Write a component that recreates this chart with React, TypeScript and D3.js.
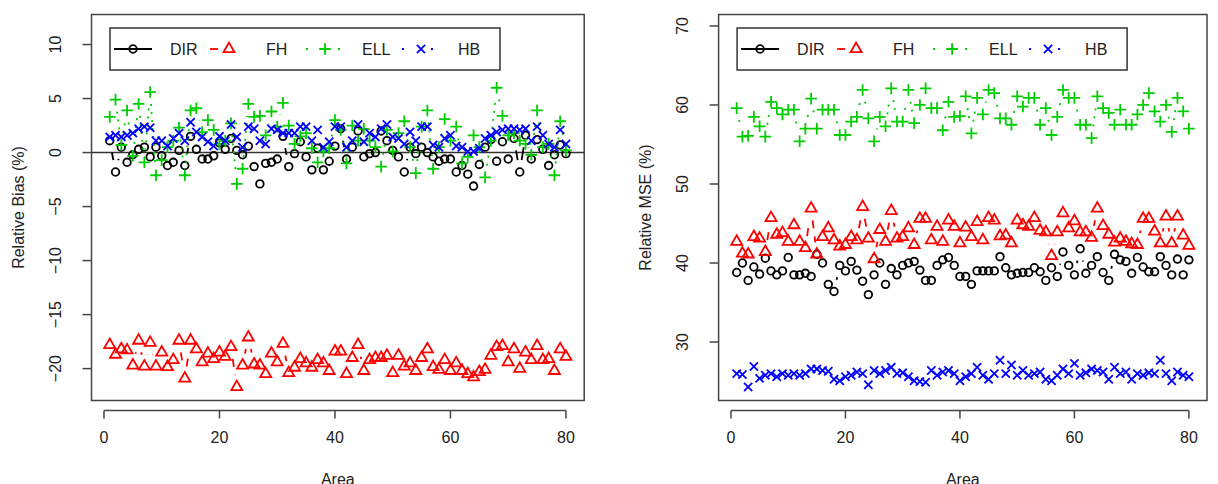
import React from "react";
import * as d3 from "d3";

// Small-area estimators compared over 80 areas
const AREAS: number[] = d3.range(1, 81);
const SERIES_NAMES = ["DIR", "FH", "ELL", "HB"];

const BIAS_TICKS = [-20, -15, -10, -5, 0, 5, 10];
const MSE_TICKS = [30, 40, 50, 60, 70];
const AREA_TICKS = [0, 20, 40, 60, 80];

// Relative bias (%)
const biasDIR = [
  1.1, -1.8, 0.5, -0.9, -0.2, 0.3, 0.5, -0.4, 0.5, -0.3,
  -1.2, -0.9, 0.2, -1.2, 1.5, 0.3, -0.6, -0.6, -0.3, 0.9,
  0.3, 1.3, 0.2, -0.2, 0.6, -1.3, -2.9, -1.0, -0.9, -0.6,
  1.5, -1.3, -0.1, 1.0, -0.4, -1.6, 0.4, -1.6, -0.8, 0.6,
  2.2, -0.6, 0.5, 2.0, -0.4, -0.1, 0.0, 2.0, 1.1, 0.2,
  -0.4, -1.8, 0.5, -0.1, 0.5, 0.0, -0.4, -0.8, -0.6, -0.6,
  -1.8, -1.2, -2.0, -3.1, -1.1, 0.5, 1.2, -0.8, 1.0, -0.6,
  1.3, -1.8, 1.6, -0.6, 1.2, 0.3, -1.2, -0.2, 0.7, -0.1,
];
const biasFH = [
  -17.8, -18.7, -18.2, -18.3, -19.7, -17.4, -19.8, -17.6, -19.8, -18.5,
  -19.85, -19.2, -17.4, -20.9, -17.4, -18.2, -19.4, -18.6, -19.1, -18.5,
  -18.9, -18.0, -21.7, -19.7, -17.1, -19.6, -19.7, -20.5, -18.6, -19.4,
  -17.7, -20.4, -19.9, -19.1, -19.5, -19.9, -19.2, -19.5, -20.2, -18.4,
  -18.4, -20.5, -19.0, -17.8, -20.2, -19.2, -19.0, -19.0, -18.8, -20.4,
  -18.8, -19.8, -19.5, -20.2, -19.0, -18.2, -19.85, -20.1, -19.2, -20.2,
  -19.5, -20.2, -20.5, -20.8, -20.3, -20.1, -18.8, -18.0, -17.9, -19.4,
  -18.2, -20.0, -18.5, -19.2, -17.9, -19.2, -19.1, -20.2, -18.2, -18.9,
];
const biasELL = [
  3.3, 4.9, 0.7, 3.9, -0.3, 4.5, -0.9, 5.6, -2.1, -0.7,
  0.5, 1.1, 2.3, -2.1, 3.9, 4.1, 1.9, 3.0, 2.1, 0.8,
  1.1, 2.7, -2.9, -1.5, 4.5, 3.3, 3.4, 1.6, 3.8, 2.4,
  4.6, 2.5, 0.8, 1.5, 1.8, 0.4, -0.9, 0.1, 0.4, 3.0,
  2.1, -1.0, 2.5, 1.1, 2.2, 1.1, 0.5, -1.3, 2.1, 0.1,
  1.8, 2.9, 0.5, -1.9, 2.4, 3.9, -1.5, 0.5, 3.1, 1.1,
  2.4, -1.0, -0.4, 1.6, 0.5, -2.3, 1.1, 6.0, 3.4, 1.6,
  1.8, 1.1, 0.8, -0.2, 3.9, 0.5, 0.8, -2.1, 2.9, 0.2,
];
const biasHB = [
  1.45, 1.6, 1.45, 1.6, 1.8, 2.2, 2.4, 2.3, 1.1, 1.1,
  0.6, 1.3, 1.8, 1.1, 2.8, 1.9, 1.45, 1.0, 0.6, 1.5,
  1.1, 2.6, 1.45, 0.5, 2.4, 2.2, 1.1, 0.8, 2.2, 2.1,
  1.8, 1.8, 1.8, 2.4, 2.4, 1.1, 2.1, 0.5, 1.0, 2.4,
  2.4, 0.5, 1.1, 2.6, 1.0, 1.8, 1.45, 2.2, 2.6, 1.45,
  1.3, 0.8, 1.9, 1.1, 2.4, 2.4, 0.7, 0.5, 1.3, 1.6,
  0.6, 0.5, 0.1, 0.1, 0.4, 1.3, 1.6, 1.9, 2.1, 2.2,
  2.2, 2.1, 2.2, 1.1, 2.4, 1.6, 0.8, 0.5, 2.1, 0.8,
];

// Relative MSE (%)
const mseDIR = [
  38.8, 40.0, 37.8, 39.5, 38.6, 40.6, 39.0, 38.5, 39.0, 40.7,
  38.5, 38.5, 38.7, 38.3, 41.1, 40.0, 37.3, 36.4, 39.7, 39.0,
  40.2, 39.1, 37.7, 36.0, 38.5, 40.0, 37.3, 39.3, 38.5, 39.7,
  40.0, 40.2, 39.1, 37.8, 37.8, 39.7, 40.4, 40.7, 39.7, 38.3,
  38.3, 37.3, 39.0, 39.0, 39.0, 39.0, 40.8, 39.4, 38.5, 38.7,
  38.8, 38.8, 39.4, 38.9, 37.8, 39.4, 38.3, 41.4, 39.7, 38.5,
  41.8, 38.7, 39.7, 40.8, 38.8, 37.8, 41.1, 40.4, 40.2, 38.7,
  40.7, 39.5, 38.9, 38.9, 40.8, 39.7, 38.5, 40.5, 38.5, 40.4,
];
const mseFH = [
  42.7, 41.2, 41.1, 43.3, 43.1, 41.4, 45.7, 43.6, 43.8, 42.7,
  44.8, 42.7, 41.9, 46.9, 41.1, 43.3, 44.4, 42.9, 42.1, 42.3,
  43.3, 42.9, 47.1, 43.1, 40.5, 44.2, 42.7, 46.6, 43.1, 43.3,
  44.4, 42.3, 45.6, 45.6, 42.9, 44.6, 42.7, 45.4, 44.6, 42.5,
  44.5, 43.3, 45.2, 42.9, 45.7, 45.4, 43.4, 43.5, 42.5, 45.4,
  44.8, 44.6, 45.7, 44.1, 43.9, 40.9, 43.9, 46.3, 44.4, 45.3,
  43.9, 43.9, 43.2, 46.9, 44.7, 43.6, 42.6, 43.1, 42.7, 42.4,
  42.3, 45.6, 45.6, 44.0, 42.5, 45.9, 42.5, 45.9, 43.5, 42.2,
];
const mseELL = [
  59.6, 56.0, 56.1, 58.5, 57.3, 56.0, 60.4, 59.6, 58.8, 59.4,
  59.4, 55.4, 57.0, 60.8, 57.0, 59.4, 59.4, 59.4, 56.2, 56.2,
  57.9, 58.5, 61.9, 58.3, 55.4, 58.5, 57.3, 62.1, 57.9, 57.9,
  61.9, 57.7, 60.0, 62.1, 59.6, 59.6, 56.8, 60.4, 58.5, 58.6,
  61.1, 56.4, 60.9, 58.8, 61.9, 61.5, 58.3, 58.3, 57.5, 61.1,
  59.8, 60.9, 60.9, 57.5, 59.6, 56.2, 58.5, 61.9, 60.9, 60.9,
  57.5, 57.5, 55.8, 61.1, 59.6, 59.0, 57.5, 59.4, 57.5, 57.5,
  58.8, 60.0, 61.5, 59.2, 57.9, 60.0, 56.6, 60.9, 59.2, 57.0,
];
const mseHB = [
  26.0, 25.9, 24.3, 26.9, 25.4, 25.8, 26.0, 25.6, 26.0, 25.8,
  26.0, 25.8, 26.0, 26.6, 26.6, 26.4, 26.3, 25.3, 25.1, 25.6,
  25.8, 26.2, 26.0, 24.6, 26.4, 26.0, 26.4, 26.8, 26.0, 26.1,
  25.6, 25.1, 25.0, 24.9, 26.4, 25.8, 26.2, 26.4, 26.0, 25.1,
  25.6, 26.0, 26.8, 25.8, 25.3, 26.0, 27.7, 26.0, 27.1, 25.8,
  26.4, 25.8, 26.0, 26.2, 25.3, 25.1, 25.8, 26.6, 26.0, 27.3,
  25.8, 26.1, 26.6, 26.4, 26.2, 25.3, 26.8, 26.0, 26.2, 25.3,
  26.0, 25.8, 26.1, 26.0, 27.7, 26.0, 25.1, 26.2, 25.8, 25.6,
];

const COLORS = ["#000000", "#ff0000", "#00cd00", "#0000ff"];
const DASHES = ["none", "8,8", "2,6", "2,6,8,6"];
const LEGEND_DASHES = ["none", "8,40", "2,30", "2,27"];
const SHAPES = ["circle", "triangle", "plus", "cross"];

const FONT = "'Liberation Sans', Arial, Helvetica, sans-serif";
const FS = 16;
const U = 4.1; // symbol radius unit
const LW = 1.8;
const GAP = 12; // space kept free around each point on connecting segments

function Marker({ shape, x, y, color }: { shape: string; x: number; y: number; color: string }) {
  const common = { fill: "none", stroke: color, strokeWidth: LW } as const;
  if (shape === "circle") return <circle cx={x} cy={y} r={U - 0.3} {...common} />;
  if (shape === "triangle") {
    const r = 1.5551 * U;
    const yc = 0.7776 * U;
    const xc = 1.3468 * U;
    return <path d={`M${x},${y - r}L${x + xc},${y + yc}L${x - xc},${y + yc}Z`} {...common} strokeLinejoin="miter" />;
  }
  if (shape === "plus") {
    const xc = Math.SQRT2 * U;
    return <path d={`M${x - xc},${y}H${x + xc}M${x},${y - xc}V${y + xc}`} {...common} />;
  }
  const xc = U;
  return <path d={`M${x - xc},${y - xc}L${x + xc},${y + xc}M${x - xc},${y + xc}L${x + xc},${y - xc}`} {...common} />;
}

type PanelProps = {
  left: number;
  right: number;
  top: number;
  bottom: number;
  yDomain: [number, number];
  yTicks: number[];
  yTitle: string;
  series: number[][];
  zeroLine: boolean;
};

function Panel({ left, right, top, bottom, yDomain, yTicks, yTitle, series, zeroLine }: PanelProps) {
  const x = d3.scaleLinear().domain([-2.16, 83.16]).range([left, right]);
  const y = d3.scaleLinear().domain(yDomain).range([bottom, top]);
  const axisY = bottom + 10;
  const fmt = (v: number) => (v < 0 ? "\u2212" + Math.abs(v) : String(v));

  // connecting segments, trimmed around each point
  const segs = (vals: number[]) => {
    const out: { x1: number; y1: number; x2: number; y2: number }[] = [];
    for (let i = 1; i < vals.length; i++) {
      const x0 = x(AREAS[i - 1]);
      const y0 = y(vals[i - 1]);
      const x1 = x(AREAS[i]);
      const y1 = y(vals[i]);
      const dx = x1 - x0;
      const dy = y1 - y0;
      const len = Math.hypot(dx, dy);
      if (len <= 2 * GAP) continue;
      const f = GAP / len;
      out.push({ x1: x0 + f * dx, y1: y0 + f * dy, x2: x1 - f * dx, y2: y1 - f * dy });
    }
    return out;
  };

  const lgLeft = left + 18.5;
  const lgTop = 28;
  const lgW = 390;
  const lgH = 42;
  const lgMid = lgTop + lgH / 2;
  const step = 96;

  return (
    <g>
      {zeroLine && (
        <line x1={left} x2={right} y1={y(0)} y2={y(0)} stroke="#333" strokeWidth={1.5} />
      )}
      {series.map((vals, s) => (
        <g key={SERIES_NAMES[s]}>
          {segs(vals).map((sg, i) => (
            <line
              key={i}
              {...sg}
              stroke={COLORS[s]}
              strokeWidth={LW}
              strokeDasharray={DASHES[s]}
            />
          ))}
          {vals.map((v, i) => (
            <Marker key={i} shape={SHAPES[s]} x={x(AREAS[i])} y={y(v)} color={COLORS[s]} />
          ))}
        </g>
      ))}
      <rect x={left} y={top} width={right - left} height={bottom - top} fill="none" stroke="#444" strokeWidth={1.5} />
      {/* x axis */}
      <line x1={x(0)} x2={x(80)} y1={axisY} y2={axisY} stroke="#444" strokeWidth={1.5} />
      {AREA_TICKS.map((t) => (
        <g key={t}>
          <line x1={x(t)} x2={x(t)} y1={axisY} y2={axisY + 8} stroke="#444" strokeWidth={1.5} />
          <text x={x(t)} y={axisY + 32} textAnchor="middle" fontFamily={FONT} fontSize={FS} fill="#222">
            {t}
          </text>
        </g>
      ))}
      <text x={(left + right) / 2} y={485} textAnchor="middle" fontFamily={FONT} fontSize={FS} fill="#222">
        Area
      </text>
      {/* y axis */}
      {yTicks.map((t) => (
        <g key={t}>
          <line x1={left - 9} x2={left} y1={y(t)} y2={y(t)} stroke="#444" strokeWidth={1.5} />
          <text
            transform={`translate(${left - 36},${y(t)}) rotate(-90)`}
            dy="0.36em"
            textAnchor="middle"
            fontFamily={FONT}
            fontSize={FS}
            fill="#222"
          >
            {fmt(t)}
          </text>
        </g>
      ))}
      <text
        transform={`translate(${left - 73.5},${(top + bottom) / 2}) rotate(-90)`}
        dy="0.36em"
        textAnchor="middle"
        fontFamily={FONT}
        fontSize={FS}
        fill="#222"
      >
        {yTitle}
      </text>
      {/* legend */}
      <rect x={lgLeft} y={lgTop} width={lgW} height={lgH} fill="#fff" stroke="#333" strokeWidth={1.5} />
      {SERIES_NAMES.map((name, s) => {
        const x0 = lgLeft + 4 + s * step;
        return (
          <g key={name}>
            <line
              x1={x0}
              x2={x0 + 38}
              y1={lgMid}
              y2={lgMid}
              stroke={COLORS[s]}
              strokeWidth={LW}
              strokeDasharray={LEGEND_DASHES[s]}
            />
            <Marker shape={SHAPES[s]} x={x0 + 19} y={lgMid} color={COLORS[s]} />
            <text x={x0 + 56} y={lgMid} dy="0.36em" fontFamily={FONT} fontSize={FS} fill="#222">
              {name}
            </text>
          </g>
        );
      })}
    </g>
  );
}

export default function App() {
  return (
    <svg width={1218} height={484} style={{ display: "block", position: "absolute", left: 0, top: 0 }}>
      <rect width={1218} height={484} fill="#fff" />
      <Panel
        left={91.5}
        right={584.2}
        top={14.5}
        bottom={400.5}
        yDomain={[-22.95, 12.78]}
        yTicks={BIAS_TICKS}
        yTitle="Relative Bias (%)"
        series={[biasDIR, biasFH, biasELL, biasHB]}
        zeroLine={true}
      />
      <Panel
        left={718.6}
        right={1207}
        top={14.5}
        bottom={400.5}
        yDomain={[22.6, 71.45]}
        yTicks={MSE_TICKS}
        yTitle="Relative MSE (%)"
        series={[mseDIR, mseFH, mseELL, mseHB]}
        zeroLine={false}
      />
    </svg>
  );
}
